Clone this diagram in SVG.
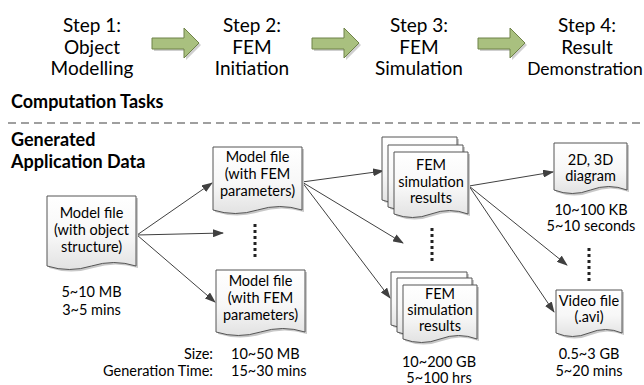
<svg xmlns="http://www.w3.org/2000/svg" width="644" height="385" viewBox="0 0 644 385">
<defs>
  <linearGradient id="docfill" x1="0" y1="0" x2="0" y2="1">
    <stop offset="0" stop-color="#ffffff"/>
    <stop offset="0.55" stop-color="#f7f7f7"/>
    <stop offset="1" stop-color="#e2e2e2"/>
  </linearGradient>
  <marker id="ah" markerUnits="userSpaceOnUse" markerWidth="11" markerHeight="8" refX="10" refY="4" orient="auto">
    <path d="M0,0 L11,4 L0,8 Z" fill="#404040"/>
  </marker>
  <path id="blk" d="M0,0 H32 V-10 L47,5 L32,20 V11 H0 Z"/>
</defs>
<style>
  text { font-family: "Lato", "Liberation Sans", sans-serif; fill: #000; }
  .step { font-size: 19px; text-anchor: middle; }
  .lbl { font-size: 14.5px; text-anchor: middle; }
  .hdr { font-size: 18px; font-weight: bold; }
  .doc { fill: url(#docfill); stroke: #555; stroke-width: 1; }
  .shadow { fill: #c8c8c8; }
  .conn { stroke: #404040; stroke-width: 1; fill: none; marker-end: url(#ah); }
  .dots { stroke: #222; stroke-width: 3; stroke-dasharray: 3 3; fill: none; }
  .arr { fill: #a9c07f; stroke: #6f8248; stroke-width: 1; }
  .arrsh { fill: #cfcfcf; }
</style>

<g id="steps">
  <text class="step" x="92" y="32">Step 1:</text>
  <text class="step" x="92" y="54">Object</text>
  <text class="step" x="92" y="75">Modelling</text>
  <text class="step" x="252" y="32">Step 2:</text>
  <text class="step" x="252" y="54">FEM</text>
  <text class="step" x="252" y="75">Initiation</text>
  <text class="step" x="419" y="32">Step 3:</text>
  <text class="step" x="419" y="54">FEM</text>
  <text class="step" x="419" y="75">Simulation</text>
  <text class="step" x="587" y="32">Step 4:</text>
  <text class="step" x="587" y="54">Result</text>
  <text class="step" x="585" y="75" style="font-size:17.5px">Demonstration</text>
</g>

<g id="step-arrows">
  <use href="#blk" class="arrsh" transform="translate(154,40)"/>
  <use href="#blk" class="arr" transform="translate(152,38)"/>
  <use href="#blk" class="arrsh" transform="translate(314,40)"/>
  <use href="#blk" class="arr" transform="translate(312,38)"/>
  <use href="#blk" class="arrsh" transform="translate(480,40)"/>
  <use href="#blk" class="arr" transform="translate(478,38)"/>
</g>

<g id="headers">
  <text class="hdr" x="11" y="108">Computation Tasks</text>
  <line x1="8" y1="123" x2="644" y2="123" stroke="#404040" stroke-width="1.2" stroke-dasharray="8 5"/>
  <text class="hdr" x="11" y="146">Generated</text>
  <text class="hdr" x="11" y="168">Application Data</text>
</g>

<g id="connectors">
  <line class="conn" x1="137" y1="235" x2="212" y2="183"/>
  <line class="conn" x1="137" y1="235" x2="223" y2="233"/>
  <line class="conn" x1="137" y1="235" x2="215" y2="302"/>
  <line class="conn" x1="302" y1="182" x2="383" y2="171"/>
  <line class="conn" x1="302" y1="182" x2="403" y2="243"/>
  <line class="conn" x1="302" y1="182" x2="390" y2="298"/>
  <line class="conn" x1="469" y1="186" x2="553" y2="172"/>
  <line class="conn" x1="469" y1="186" x2="567" y2="265"/>
  <line class="conn" x1="469" y1="186" x2="554" y2="312"/>
  <line class="dots" x1="255" y1="224" x2="255" y2="257"/>
  <line class="dots" x1="432" y1="228" x2="432" y2="261"/>
  <line class="dots" x1="589" y1="248" x2="589" y2="281"/>
</g>

<g id="doc-model-object">
  <path class="shadow" d="M49,198 H138 V268 Q115.75,261 93.5,268 Q71.25,275 49,268 Z"/>
  <path class="doc" d="M47,196 H136 V266 Q113.75,259 91.5,266 Q69.25,273 47,266 Z"/>
  <text class="lbl" x="91.5" y="218">Model file</text>
  <text class="lbl" x="91.5" y="235">(with object</text>
  <text class="lbl" x="91.5" y="252">structure)</text>
  <text class="lbl" x="91.5" y="297">5~10 MB</text>
  <text class="lbl" x="91.5" y="315">3~5 mins</text>
</g>

<g id="doc-model-fem-1">
  <path class="shadow" d="M215,149 H304 V212 Q281.75,205 259.5,212 Q237.25,219 215,212 Z"/>
  <path class="doc" d="M213,147 H302 V210 Q279.75,203 257.5,210 Q235.25,217 213,210 Z"/>
  <text class="lbl" x="257.5" y="162">Model file</text>
  <text class="lbl" x="257.5" y="179">(with FEM</text>
  <text class="lbl" x="257.5" y="196">parameters)</text>
</g>

<g id="doc-model-fem-2">
  <path class="shadow" d="M218,272 H307 V334 Q284.75,327 262.5,334 Q240.25,341 218,334 Z"/>
  <path class="doc" d="M216,270 H305 V332 Q282.75,325 260.5,332 Q238.25,339 216,332 Z"/>
  <text class="lbl" x="260.5" y="286">Model file</text>
  <text class="lbl" x="260.5" y="303">(with FEM</text>
  <text class="lbl" x="260.5" y="320">parameters)</text>
  <text class="lbl" x="213" y="359" style="text-anchor:end">Size:</text>
  <text class="lbl" x="213" y="376" style="text-anchor:end">Generation Time:</text>
  <text class="lbl" x="231" y="359" style="text-anchor:start">10~50 MB</text>
  <text class="lbl" x="231" y="376" style="text-anchor:start">15~30 mins</text>
</g>

<g id="doc-fem-results-1">
  <path class="shadow" d="M384,139 H459 V202 Q440,195 421.5,202 Q403,209 384,202 Z"/>
  <path class="doc" d="M382,137 H457 V200 Q438,193 419.5,200 Q401,207 382,200 Z"/>
  <path class="shadow" d="M390,147 H465 V209 Q446,202 427.5,209 Q409,216 390,209 Z"/>
  <path class="doc" d="M388,145 H463 V207 Q444,200 425.5,207 Q407,214 388,207 Z"/>
  <path class="shadow" d="M396,154 H470 V216 Q451.5,209 433,216 Q414.5,223 396,216 Z"/>
  <path class="doc" d="M394,152 H468 V214 Q449.5,207 431,214 Q412.5,221 394,214 Z"/>
  <text class="lbl" x="431" y="170">FEM</text>
  <text class="lbl" x="431" y="187">simulation</text>
  <text class="lbl" x="431" y="203">results</text>
</g>

<g id="doc-fem-results-2">
  <path class="shadow" d="M393,274 H469 V327 Q450,320 431,327 Q412,334 393,327 Z"/>
  <path class="doc" d="M391,272 H467 V325 Q448,318 429,325 Q410,332 391,325 Z"/>
  <path class="shadow" d="M399,280 H474 V334 Q455,327 436.5,334 Q418,341 399,334 Z"/>
  <path class="doc" d="M397,278 H472 V332 Q453,325 434.5,332 Q416,339 397,332 Z"/>
  <path class="shadow" d="M405,287 H479 V341 Q460.5,334 442,341 Q423.5,348 405,341 Z"/>
  <path class="doc" d="M403,285 H477 V339 Q458.5,332 440,339 Q421.5,346 403,339 Z"/>
  <text class="lbl" x="440" y="299">FEM</text>
  <text class="lbl" x="440" y="315">simulation</text>
  <text class="lbl" x="440" y="331">results</text>
  <text class="lbl" x="439" y="367">10~200 GB</text>
  <text class="lbl" x="439" y="383">5~100 hrs</text>
</g>

<g id="doc-diagram">
  <path class="shadow" d="M556,145 H629 V192 Q610.75,185 592.5,192 Q574.25,199 556,192 Z"/>
  <path class="doc" d="M554,143 H627 V190 Q608.75,183 590.5,190 Q572.25,197 554,190 Z"/>
  <text class="lbl" x="590.5" y="165">2D, 3D</text>
  <text class="lbl" x="590.5" y="181">diagram</text>
  <text class="lbl" x="591" y="215">10~100 KB</text>
  <text class="lbl" x="591" y="231">5~10 seconds</text>
</g>

<g id="doc-video">
  <path class="shadow" d="M558,292 H624 V335 Q607.5,328 591,335 Q574.5,342 558,335 Z"/>
  <path class="doc" d="M556,290 H622 V333 Q605.5,326 589,333 Q572.5,340 556,333 Z"/>
  <text class="lbl" x="589" y="306">Video file</text>
  <text class="lbl" x="589" y="322">(.avi)</text>
  <text class="lbl" x="589" y="359">0.5~3 GB</text>
  <text class="lbl" x="589" y="376">5~20 mins</text>
</g>
</svg>
